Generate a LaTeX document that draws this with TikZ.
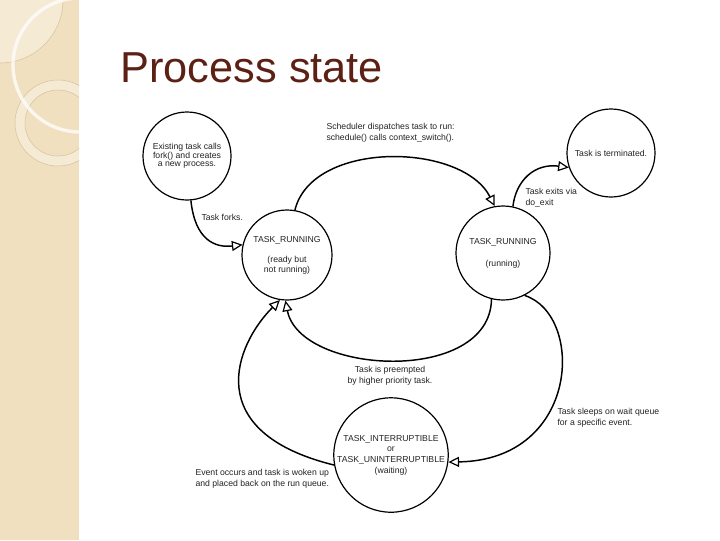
\documentclass[tikz,border=0pt]{standalone}
\usepackage{fontspec}
\setmainfont{Liberation Sans}
\usetikzlibrary{arrows.meta}

\definecolor{stripe}{RGB}{240,224,192}
\definecolor{stripelight}{RGB}{245,234,212}
\definecolor{ringline}{RGB}{214,194,158}
\definecolor{titlecol}{RGB}{92,32,20}
\definecolor{inkcol}{RGB}{35,35,35}

\tikzset{every picture/.style={line width=0.75pt}}
\tikzset{
  state/.style={draw, circle, line width=0.9pt, inner sep=0pt, align=center, text=inkcol,
    font=\fontsize{6.5}{7.5}\selectfont},
  trans/.style={line width=1.1pt, -{Triangle[open,length=8pt,width=7.5pt,line width=0.9pt]}},
  note/.style={inner sep=0pt, align=left, text=inkcol, font=\fontsize{6.5}{8.25}\selectfont},
}

\begin{document}
\begin{tikzpicture}[x=0.75pt,y=0.75pt,yscale=-1,xscale=1]
\useasboundingbox (0,0) rectangle (720,540);
\fill[white] (0,0) rectangle (720,540);

%Shape: Left stripe
\fill[stripe] (0,0) rectangle (79,540);
\begin{scope}
\clip (0,0) rectangle (79,540);
\fill[stripelight] (0,0) circle (63);
\draw[ringline, line width=0.4pt] (0,0) circle (63);
\fill[stripelight, even odd rule] (58,123) circle (43) (58,123) circle (33);
\draw[ringline, line width=0.4pt] (58,123) circle (43);
\draw[ringline, line width=0.4pt] (58,123) circle (33);
\draw[white, opacity=0.75, line width=2.5pt] (80,65) circle (67);
\end{scope}

% Title
\node[anchor=base west, inner sep=0pt, text=titlecol, font=\fontsize{32.5}{32.5}\selectfont] (title) at (120,82) {Process state};

%Shape: Circle
\node[state, minimum size=66pt, font=\fontsize{6.5}{6.5}\selectfont] (fork) at (187,156) {Existing task calls\\fork() and creates\\a new process.};
%Shape: Circle
\node[state, minimum size=67.5pt] (ready) at (287,255) {TASK\_RUNNING\\[7.5pt](ready but\\not running)};
%Shape: Circle
\node[state, minimum size=70.5pt] (running) at (503,253) {TASK\_RUNNING\\[9pt](running)};
%Shape: Circle
\node[state, minimum size=66pt] (done) at (611,153) {Task is terminated.};
%Shape: Circle
\node[state, minimum size=85.5pt, font=\fontsize{6.5}{8}\selectfont] (waiting) at (391,455) {TASK\_INTERRUPTIBLE\\or\\TASK\_UNINTERRUPTIBLE\\(waiting)};

%Curve Lines
\draw[trans] (fork.-85) .. controls (195,240) and (215,248) .. (ready.167);
%Curve Lines
\draw[trans] (ready.80) .. controls (312,140) and (462,142) .. (running.100);
%Curve Lines
\draw[trans] (running.78) .. controls (516,180) and (535,163) .. (done.199);
%Curve Lines
\draw[trans] (running.-104) .. controls (490,385) and (300,375) .. (ready.-92);
%Curve Lines
\draw[trans] (running.-63) .. controls (585,315) and (580,460) .. (waiting.-7);
%Curve Lines
\draw[trans] (waiting.190) .. controls (200,432) and (235,345) .. (ready.-99);

% Text Node
\node[note, anchor=west] (forks) at (201,217) {Task forks.};
% Text Node
\node[note, anchor=west] (dispatch) at (326,133) {Scheduler dispatches task to run:\\schedule() calls context\_switch().};
% Text Node
\node[note, anchor=west] (exits) at (525,198) {Task exits via\\do\_exit};
% Text Node
\node[note, align=center] (preempt) at (390,376) {Task is preempted\\by higher priority task.};
% Text Node
\node[note, anchor=west] (sleeps) at (557,418) {Task sleeps on wait queue\\for a specific event.};
% Text Node
\node[note, anchor=west] (wakes) at (195,479) {Event occurs and task is woken up\\and placed back on the run queue.};

\end{tikzpicture}
\end{document}
